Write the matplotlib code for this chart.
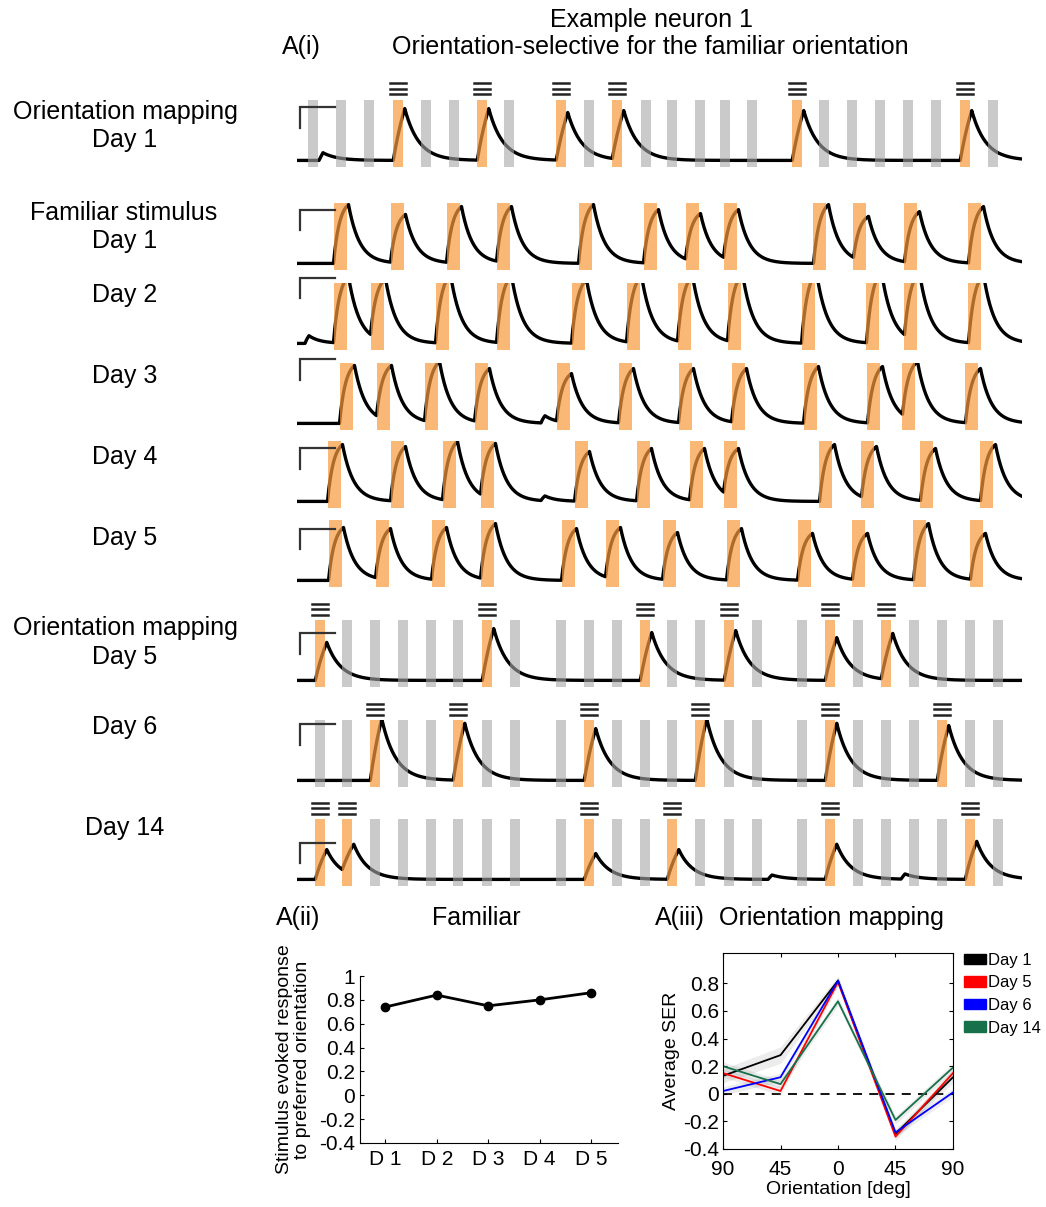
import matplotlib.pyplot as plt
import numpy as np
from matplotlib.patches import Patch

plt.rcParams['font.family'] = ['Liberation Sans', 'DejaVu Sans']
plt.rcParams['axes.unicode_minus'] = False

W, H = 1046, 1207

# ---- stimulus timing (s), orientation mapping: 3 blocks x 8 orientations ----
om_d1_times = [16, 44, 72, 101, 129, 157, 185, 212, 264, 292, 320, 349, 375, 403, 428, 455,
               500, 527, 555, 583, 611, 639, 668, 696]
om_times = [23, 50, 78, 106, 134, 161, 190, 218, 264, 292, 320, 348, 375, 403, 432, 460,
            505, 533, 561, 589, 617, 645, 673, 701]

# presentations of the preferred (familiar) orientation and their peak dF/F
om_d1_pref = [3, 6, 8, 10, 16, 22]
om_d1_amp = [2.36, 2.36, 2.18, 2.27, 2.27, 2.27]
om_d5_pref = [0, 6, 11, 14, 17, 19]
om_d5_amp = [1.73, 2.36, 2.18, 2.27, 1.95, 2.14]
om_d6_pref = [2, 5, 9, 13, 17, 21]
om_d6_amp = [2.8, 2.6, 2.36, 2.8, 2.6, 2.5]
om_d14_pref = [0, 1, 9, 12, 17, 22]
om_d14_amp = [1.36, 1.6, 1.18, 1.36, 1.6, 1.73]

# ---- familiar stimulus sessions: onset centres (s) and peak dF/F ----
fam_d1_times = [43, 100, 156, 206, 288, 353, 395, 433, 523, 563, 614, 678]
fam_d1_amp = [2.68, 2.23, 2.59, 2.59, 2.68, 2.45, 2.27, 2.45, 2.68, 2.14, 2.36, 2.59]
fam_d2_times = [43, 80, 145, 206, 281, 336, 387, 437, 511, 576, 614, 678]
fam_d2_amp = [3.05, 2.95, 3.14, 3.09, 2.91, 3.09, 3.09, 3.18, 3.23, 3.27, 3.23, 3.14]
fam_d3_times = [49, 86, 134, 184, 266, 328, 388, 441, 513, 577, 612, 675]
fam_d3_amp = [2.64, 2.64, 2.82, 2.5, 2.27, 2.5, 2.5, 2.5, 2.59, 2.59, 2.82, 2.5]
fam_d4_times = [37, 100, 152, 190, 284, 346, 399, 433, 529, 571, 630, 690]
fam_d4_amp = [2.59, 2.5, 2.73, 2.64, 2.27, 2.41, 2.41, 2.41, 2.59, 2.5, 2.41, 2.59]
fam_d5_times = [38, 85, 141, 190, 271, 315, 372, 436, 507, 562, 623, 680]
fam_d5_amp = [2.41, 2.36, 2.41, 2.59, 2.36, 2.41, 2.18, 2.36, 2.14, 2.14, 2.59, 2.14]

# small spontaneous transients (time, peak)
spont_om_d1 = [(24, 0.35), (704, 0.25)]
spont_fam_d2 = [(10, 0.35)]
spont_fam_d3 = [(246, 0.35)]
spont_fam_d4 = [(246, 0.25)]
spont_om_d14 = [(473, 0.2), (606, 0.25)]

# ---- summary panels ----
fam_days = ['D 1', 'D 2', 'D 3', 'D 4', 'D 5']
fam_ser = [0.74, 0.84, 0.75, 0.80, 0.86]

ori_labels = ['90', '45', '0', '45', '90']
ser_d1 = [0.13, 0.28, 0.82, -0.29, 0.12]
ser_d5 = [0.15, 0.02, 0.81, -0.31, 0.15]
ser_d6 = [0.02, 0.12, 0.82, -0.28, 0.01]
ser_d14 = [0.20, 0.07, 0.67, -0.19, 0.19]
sem_d1 = [0.05, 0.06, 0.03, 0.03, 0.04]
sem_d5 = [0.03, 0.03, 0.03, 0.03, 0.03]
sem_d6 = [0.03, 0.03, 0.03, 0.03, 0.03]
sem_d14 = [0.03, 0.03, 0.03, 0.03, 0.03]

ORANGE = '#f79a3c'
GREY = '#a8a8a8'
GREEN = '#16704a'

fig = plt.figure(figsize=(W / 100, H / 100), dpi=100)


def px_axes(left, top, right, bottom):
    return fig.add_axes([left / W, 1 - bottom / H, (right - left) / W, (bottom - top) / H])


def px_text(x, y, s, **kw):
    kw.setdefault('fontsize', 18)
    kw.setdefault('ha', 'center')
    fig.text(x / W, 1 - y / H, s, va='center', **kw)


def response_trace(t, events, rise_tau, decay_tau):
    y = np.zeros_like(t)
    for on, dur, amp in sorted(events):
        s = t - on
        y_on = y[np.searchsorted(t, on)]
        seg = (s >= 0) & (s < dur)
        frac = (1 - np.exp(-s[seg] / rise_tau)) / (1 - np.exp(-dur / rise_tau))
        y[seg] = y_on + (amp - y_on) * frac
        after = s >= dur
        y[after] = amp * np.exp(-(s[after] - dur) / decay_tau)
    return y


t = np.arange(0, 725, 0.25)
OM_W, FAM_W = 9.5, 13.0

rows = [
    dict(kind='om', times=om_d1_times, pref=om_d1_pref, amp=om_d1_amp, spont=spont_om_d1),
    dict(kind='fam', times=fam_d1_times, amp=fam_d1_amp, spont=[]),
    dict(kind='fam', times=fam_d2_times, amp=fam_d2_amp, spont=spont_fam_d2),
    dict(kind='fam', times=fam_d3_times, amp=fam_d3_amp, spont=spont_fam_d3),
    dict(kind='fam', times=fam_d4_times, amp=fam_d4_amp, spont=spont_fam_d4),
    dict(kind='fam', times=fam_d5_times, amp=fam_d5_amp, spont=[]),
    dict(kind='om', times=om_times, pref=om_d5_pref, amp=om_d5_amp, spont=[]),
    dict(kind='om', times=om_times, pref=om_d6_pref, amp=om_d6_amp, spont=[]),
    dict(kind='om', times=om_times, pref=om_d14_pref, amp=om_d14_amp, spont=spont_om_d14),
]
row_tops = [100, 203, 283, 363, 441, 520, 620, 720, 819]
scale_tops = [2.41, 2.45, 3.0, 2.91, 2.41, 2.36, 2.14, 2.55, 1.68]
ylo, yhi = -0.3, 2.75

for row, top, sc in zip(rows, row_tops, scale_tops):
    ax = px_axes(297, top, 1022, top + 67)
    ax.set_xlim(0, 725)
    ax.set_ylim(ylo, yhi)
    ax.axis('off')

    events = []
    if row['kind'] == 'om':
        w = OM_W
        pref = dict(zip(row['pref'], row['amp']))
        for i, c in enumerate(row['times']):
            is_pref = i in pref
            ax.axvspan(c - w / 2, c + w / 2, color=ORANGE if is_pref else GREY,
                       alpha=0.7 if is_pref else 0.6, lw=0, zorder=3)
            if is_pref:
                events.append((c - w / 2, w + 2, pref[i]))
                for dy in (5.5, 11, 16.5):
                    ya = 1 + dy / 67
                    ax.plot([c - 8, c + 8], [ya, ya], color='#222222', lw=1.8,
                            transform=ax.get_xaxis_transform(), clip_on=False)
        rise, decay = 20.0, 14.0
    else:
        w = FAM_W
        for c, a in zip(row['times'], row['amp']):
            ax.axvspan(c - w / 2, c + w / 2, color=ORANGE, alpha=0.7, lw=0, zorder=3)
            events.append((c - w / 2, w + 2, a))
        rise, decay = 6.0, 11.0
    for ts, a in row['spont']:
        events.append((ts - 2, 4, a))

    ax.plot(t, response_trace(t, events, rise, decay), color='black', lw=2.4, zorder=2)

    # scale bar
    ax.plot([3, 3, 38], [sc - 0.95, sc, sc], color='#333333', lw=1.6,
            clip_on=False, zorder=4, solid_joinstyle='miter')

# ---- labels for the trace rows ----
px_text(652, 20, 'Example neuron 1')
px_text(650, 47, 'Orientation-selective for the familiar orientation')
px_text(301, 47, 'A(i)')
px_text(125, 112, 'Orientation mapping')
px_text(125, 140, 'Day 1')
px_text(124, 213, 'Familiar stimulus')
px_text(125, 241, 'Day 1')
px_text(125, 295, 'Day 2')
px_text(125, 376, 'Day 3')
px_text(125, 457, 'Day 4')
px_text(125, 538, 'Day 5')
px_text(125, 628, 'Orientation mapping')
px_text(125, 657, 'Day 5')
px_text(125, 727, 'Day 6')
px_text(125, 828, 'Day 14')

# ---- A(ii): familiar stimulus response over days ----
ax2 = px_axes(360, 976, 618, 1143)
xd = np.arange(1, len(fam_days) + 1)
ax2.plot(xd, fam_ser, color='black', lw=2, marker='o', ms=6)
ax2.set_xlim(0.51, 5.52)
ax2.set_ylim(-0.4, 1)
yt = [-0.4, -0.2, 0, 0.2, 0.4, 0.6, 0.8, 1]
ax2.set_yticks(yt)
ax2.set_yticklabels([f'{v:g}' for v in yt])
ax2.set_xticks(xd)
ax2.set_xticklabels(fam_days)
ax2.spines[['top', 'right']].set_visible(False)
ax2.tick_params(direction='in', labelsize=15, length=3)
ax2.tick_params(axis='x', pad=5)
ax2.set_ylabel('Stimulus evoked response\nto preferred orientation', fontsize=14,
               labelpad=6, linespacing=1.05)
px_text(298, 918, 'A(ii)')
px_text(476, 918, 'Familiar')

# ---- A(iii): orientation tuning in the mapping sessions ----
ax3 = px_axes(723, 953, 953, 1149)
xo = np.arange(len(ori_labels))
series = [('Day 1', ser_d1, sem_d1, 'black'), ('Day 5', ser_d5, sem_d5, 'red'),
          ('Day 6', ser_d6, sem_d6, 'blue'), ('Day 14', ser_d14, sem_d14, GREEN)]
ax3.axhline(0, color='black', lw=1.3, ls=(0, (5, 4)), zorder=1)
for name, m, e, col in series:
    m, e = np.array(m), np.array(e)
    ax3.fill_between(xo, m - e, m + e, color='grey', alpha=0.15, lw=0)
    ax3.plot(xo, m, color=col, lw=1.3)
ax3.set_xlim(0, 4)
ax3.set_ylim(-0.4, 1.02)
yt3 = [-0.4, -0.2, 0, 0.2, 0.4, 0.6, 0.8]
ax3.set_yticks(yt3)
ax3.set_yticklabels([f'{v:g}' for v in yt3])
ax3.set_xticks(xo)
ax3.set_xticklabels(ori_labels)
ax3.tick_params(direction='in', labelsize=15, length=3, top=True, right=True)
ax3.tick_params(axis='x', pad=8)
ax3.tick_params(axis='y', pad=3)
ax3.set_ylabel('Average SER', fontsize=14, labelpad=2)
ax3.set_xlabel('Orientation [deg]', fontsize=14, labelpad=1)
handles = [Patch(facecolor=col, edgecolor=col, label=name) for name, _, _, col in series]
ax3.legend(handles=handles, loc='upper left', bbox_to_anchor=(1.05, 1.0), frameon=False,
           fontsize=12, handlelength=1.3, handleheight=0.6, handletextpad=0.1,
           labelspacing=0.45, borderpad=0, borderaxespad=0)
px_text(680, 918, 'A(iii)')
px_text(831, 918, 'Orientation mapping')

fig.savefig('out.png', dpi=100)
